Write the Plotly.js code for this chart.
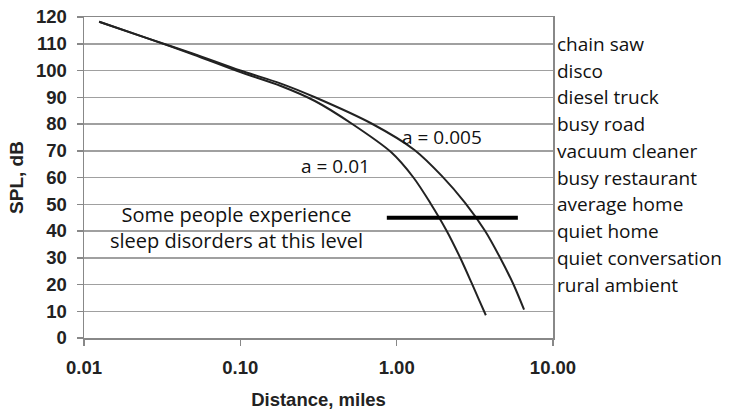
<!DOCTYPE html>
<html>
<head>
<meta charset="utf-8">
<script src="https://cdn.plot.ly/plotly-3.0.1.min.js"></script>
<style>html,body{margin:0;padding:0;background:#fff;}#chart{width:731px;height:410px;}</style>
</head>
<body>
<div id="chart"></div>
<script>
// Distance (miles) and SPL (dB)
var distA01 = [0.0125, 0.025, 0.05, 0.1, 0.18, 0.3, 0.52, 0.92, 1.28, 1.64, 2.07, 2.55, 3.02, 3.38, 3.72];
var splA01  = [118.2, 112.2, 106.0, 99.4, 94.3, 88.6, 80.0, 69.5, 60.0, 50.5, 40.5, 30.0, 20.5, 14.0, 8.5];
var distA005 = [0.0125, 0.025, 0.05, 0.1, 0.18, 0.3, 0.7, 1.3, 1.95, 2.74, 3.68, 4.59, 5.59, 6.53];
var splA005  = [118.2, 112.2, 106.3, 100.0, 95.2, 90.0, 80.0, 70.3, 60.5, 50.5, 40.0, 30.0, 20.0, 10.6];
var sleepX = [0.865, 5.96];
var sleepY = [45, 45];
var sourceLabels = ["chain saw", "disco", "diesel truck", "busy road", "vacuum cleaner",
                    "busy restaurant", "average home", "quiet home", "quiet conversation", "rural ambient"];
var sourceLevels = [110, 100, 90, 80, 70, 60, 50, 40, 30, 20];
var xTickVals = [0.01, 0.1, 1, 10];
var xTickText = ["0.01", "0.10", "1.00", "10.00"];
var noteText = "Some people experience<br>sleep disorders at this level";

var textFont = {family: "Open Sans, Noto Sans, sans-serif", size: 19, color: "#111"};
var noteFont = {family: "Open Sans, Noto Sans, sans-serif", size: 20, color: "#111"};
var boldFont = function (s) { return {family: "Liberation Sans, Arial, sans-serif", size: s, color: "#222", weight: "bold"}; };

var traces = [
  {x: distA01, y: splA01, mode: "lines", line: {color: "#222", width: 2, shape: "spline", smoothing: 0.8}, hoverinfo: "skip"},
  {x: distA005, y: splA005, mode: "lines", line: {color: "#222", width: 2, shape: "spline", smoothing: 0.8}, hoverinfo: "skip"},
  {x: sleepX, y: sleepY, mode: "lines", line: {color: "#000", width: 4}, hoverinfo: "skip"}
];

var annotations = sourceLabels.map(function (t, i) {
  return {text: t, xref: "paper", yref: "y", x: 1.004, y: sourceLevels[i], xanchor: "left", yanchor: "middle",
          showarrow: false, font: textFont};
});
annotations.push({text: "a = 0.005", xref: "x", yref: "y", x: Math.log10(1.95), y: 75.1, showarrow: false,
                  xanchor: "center", yanchor: "middle", font: textFont});
annotations.push({text: "a = 0.01", xref: "x", yref: "y", x: Math.log10(0.409), y: 64.3, showarrow: false,
                  xanchor: "center", yanchor: "middle", font: textFont});
annotations.push({text: noteText, xref: "x", yref: "y", x: Math.log10(0.095), y: 41.3, showarrow: false,
                  xanchor: "center", yanchor: "middle", align: "center", font: noteFont});

var layout = {
  width: 731, height: 410,
  margin: {l: 84, r: 178, t: 17, b: 72},
  paper_bgcolor: "#fff", plot_bgcolor: "#fff",
  showlegend: false,
  font: {family: "Liberation Sans, Arial, sans-serif", color: "#222"},
  xaxis: {
    type: "log", range: [-2, 1],
    tickvals: xTickVals, ticktext: xTickText,
    showgrid: false, zeroline: false,
    showline: true, linecolor: "#888", linewidth: 1.5, mirror: true,
    ticks: "outside", ticklen: 6, tickcolor: "#888", tickwidth: 1.5,
    ticklabelstandoff: 6,
    tickfont: boldFont(18.5),
    title: {text: "Distance, miles", standoff: 17, font: boldFont(18.5)}
  },
  yaxis: {
    range: [0, 120], dtick: 10, tick0: 0,
    showgrid: true, gridcolor: "#a0a0a0", gridwidth: 1.5, zeroline: false,
    showline: true, linecolor: "#888", linewidth: 1.5, mirror: true,
    ticks: "outside", ticklen: 6, tickcolor: "#888", tickwidth: 1.5,
    ticklabelstandoff: 6,
    tickfont: boldFont(18.5),
    title: {text: "SPL, dB", standoff: 7, font: boldFont(19)}
  },
  annotations: annotations
};

Plotly.newPlot("chart", traces, layout, {staticPlot: true, displayModeBar: false});
</script>
</body>
</html>
